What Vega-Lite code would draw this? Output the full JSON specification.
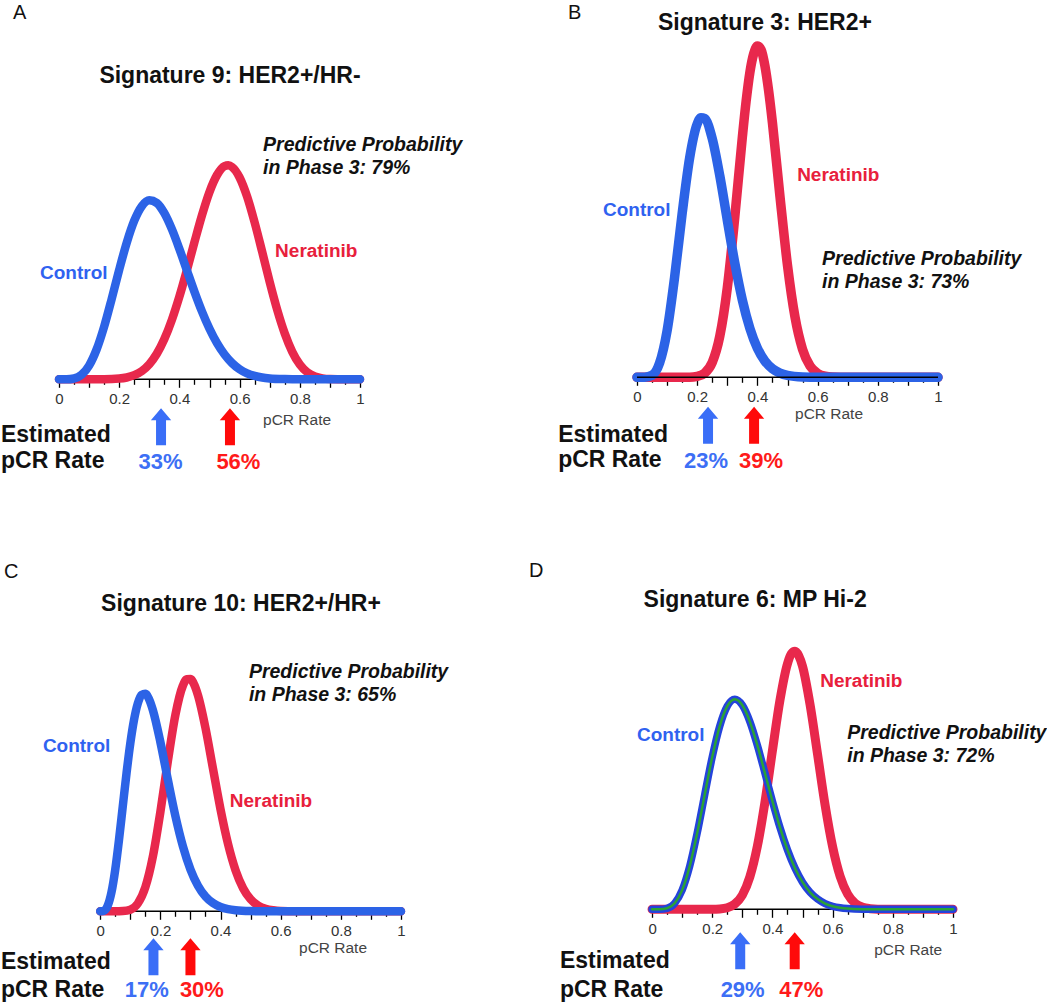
{
"$schema": "https://vega.github.io/schema/vega-lite/v6.json",
"padding": {"left": 0, "top": 2.3, "right": 0, "bottom": 0},
"background": "white",
"config": {"view": {"stroke": null}, "font": "Liberation Sans"},
"datasets": {
"curves": [
{"p":"A","a":"C","x":0,"y":0},{"p":"A","a":"C","x":0.025,"y":0},{"p":"A","a":"C","x":0.05,"y":0.8},{"p":"A","a":"C","x":0.075,"y":4.5},{"p":"A","a":"C","x":0.1,"y":13.7},{"p":"A","a":"C","x":0.125,"y":29.9},{"p":"A","a":"C","x":0.15,"y":52.7},{"p":"A","a":"C","x":0.175,"y":80.3},{"p":"A","a":"C","x":0.2,"y":109.5},{"p":"A","a":"C","x":0.225,"y":136.6},{"p":"A","a":"C","x":0.25,"y":158.6},{"p":"A","a":"C","x":0.275,"y":173.1},{"p":"A","a":"C","x":0.3,"y":179},{"p":"A","a":"C","x":0.325,"y":176.3},{"p":"A","a":"C","x":0.35,"y":166.1},{"p":"A","a":"C","x":0.375,"y":150.1},{"p":"A","a":"C","x":0.4,"y":130.3},{"p":"A","a":"C","x":0.425,"y":108.9},{"p":"A","a":"C","x":0.45,"y":87.6},{"p":"A","a":"C","x":0.475,"y":67.8},{"p":"A","a":"C","x":0.5,"y":50.5},{"p":"A","a":"C","x":0.525,"y":36.1},{"p":"A","a":"C","x":0.55,"y":24.8},{"p":"A","a":"C","x":0.575,"y":16.2},{"p":"A","a":"C","x":0.6,"y":10.1},{"p":"A","a":"C","x":0.625,"y":6},{"p":"A","a":"C","x":0.65,"y":3.4},{"p":"A","a":"C","x":0.675,"y":1.8},{"p":"A","a":"C","x":0.7,"y":0.9},{"p":"A","a":"C","x":0.75,"y":0.2},{"p":"A","a":"C","x":0.8,"y":0},{"p":"A","a":"C","x":1,"y":0},
{"p":"A","a":"N","x":0,"y":0},{"p":"A","a":"N","x":0.15,"y":0.1},{"p":"A","a":"N","x":0.2,"y":0.7},{"p":"A","a":"N","x":0.225,"y":1.8},{"p":"A","a":"N","x":0.25,"y":4.1},{"p":"A","a":"N","x":0.275,"y":8.2},{"p":"A","a":"N","x":0.3,"y":15.1},{"p":"A","a":"N","x":0.325,"y":25.5},{"p":"A","a":"N","x":0.35,"y":40.2},{"p":"A","a":"N","x":0.375,"y":59.4},{"p":"A","a":"N","x":0.4,"y":82.7},{"p":"A","a":"N","x":0.425,"y":109.2},{"p":"A","a":"N","x":0.45,"y":137.1},{"p":"A","a":"N","x":0.475,"y":164.1},{"p":"A","a":"N","x":0.5,"y":187.4},{"p":"A","a":"N","x":0.525,"y":204.3},{"p":"A","a":"N","x":0.55,"y":213.2},{"p":"A","a":"N","x":0.5625,"y":214},{"p":"A","a":"N","x":0.575,"y":212.3},{"p":"A","a":"N","x":0.6,"y":201.8},{"p":"A","a":"N","x":0.625,"y":182.6},{"p":"A","a":"N","x":0.65,"y":156.8},{"p":"A","a":"N","x":0.675,"y":127.5},{"p":"A","a":"N","x":0.7,"y":97.3},{"p":"A","a":"N","x":0.725,"y":69.4},{"p":"A","a":"N","x":0.75,"y":45.8},{"p":"A","a":"N","x":0.775,"y":27.5},{"p":"A","a":"N","x":0.8,"y":14.8},{"p":"A","a":"N","x":0.825,"y":7},{"p":"A","a":"N","x":0.85,"y":2.8},{"p":"A","a":"N","x":0.875,"y":0.9},{"p":"A","a":"N","x":0.9,"y":0.2},{"p":"A","a":"N","x":0.95,"y":0},{"p":"A","a":"N","x":1,"y":0},
{"p":"B","a":"C","x":0,"y":0},{"p":"B","a":"C","x":0.025,"y":0.1},{"p":"B","a":"C","x":0.05,"y":2},{"p":"B","a":"C","x":0.075,"y":14.2},{"p":"B","a":"C","x":0.1,"y":46.6},{"p":"B","a":"C","x":0.125,"y":100.3},{"p":"B","a":"C","x":0.15,"y":163.8},{"p":"B","a":"C","x":0.175,"y":219.6},{"p":"B","a":"C","x":0.2,"y":253.4},{"p":"B","a":"C","x":0.2125,"y":259.6},{"p":"B","a":"C","x":0.225,"y":258.7},{"p":"B","a":"C","x":0.25,"y":238.7},{"p":"B","a":"C","x":0.275,"y":201.6},{"p":"B","a":"C","x":0.3,"y":157.2},{"p":"B","a":"C","x":0.325,"y":114.1},{"p":"B","a":"C","x":0.35,"y":77.2},{"p":"B","a":"C","x":0.375,"y":49},{"p":"B","a":"C","x":0.4,"y":29.1},{"p":"B","a":"C","x":0.425,"y":16.2},{"p":"B","a":"C","x":0.45,"y":8.5},{"p":"B","a":"C","x":0.475,"y":4.2},{"p":"B","a":"C","x":0.5,"y":1.9},{"p":"B","a":"C","x":0.55,"y":0.3},{"p":"B","a":"C","x":0.6,"y":0},{"p":"B","a":"C","x":1,"y":0},
{"p":"B","a":"N","x":0,"y":0},{"p":"B","a":"N","x":0.175,"y":0.1},{"p":"B","a":"N","x":0.2,"y":0.9},{"p":"B","a":"N","x":0.225,"y":4.2},{"p":"B","a":"N","x":0.25,"y":14.9},{"p":"B","a":"N","x":0.275,"y":41},{"p":"B","a":"N","x":0.3,"y":89.5},{"p":"B","a":"N","x":0.325,"y":160.5},{"p":"B","a":"N","x":0.35,"y":240.2},{"p":"B","a":"N","x":0.3625,"y":276},{"p":"B","a":"N","x":0.375,"y":304.9},{"p":"B","a":"N","x":0.3875,"y":323.4},{"p":"B","a":"N","x":0.4,"y":331.3},{"p":"B","a":"N","x":0.4125,"y":327.5},{"p":"B","a":"N","x":0.425,"y":311.4},{"p":"B","a":"N","x":0.4375,"y":286.1},{"p":"B","a":"N","x":0.45,"y":254.4},{"p":"B","a":"N","x":0.475,"y":180.9},{"p":"B","a":"N","x":0.5,"y":111.9},{"p":"B","a":"N","x":0.525,"y":60.1},{"p":"B","a":"N","x":0.55,"y":28},{"p":"B","a":"N","x":0.575,"y":11.2},{"p":"B","a":"N","x":0.6,"y":3.9},{"p":"B","a":"N","x":0.625,"y":1.1},{"p":"B","a":"N","x":0.65,"y":0.3},{"p":"B","a":"N","x":0.7,"y":0},{"p":"B","a":"N","x":1,"y":0},
{"p":"C","a":"C","x":0,"y":0},{"p":"C","a":"C","x":0.0125,"y":0.6},{"p":"C","a":"C","x":0.025,"y":5.6},{"p":"C","a":"C","x":0.0375,"y":19.1},{"p":"C","a":"C","x":0.05,"y":41.7},{"p":"C","a":"C","x":0.0625,"y":71.5},{"p":"C","a":"C","x":0.075,"y":104.9},{"p":"C","a":"C","x":0.0875,"y":138.1},{"p":"C","a":"C","x":0.1,"y":167.8},{"p":"C","a":"C","x":0.1125,"y":191.5},{"p":"C","a":"C","x":0.125,"y":207.9},{"p":"C","a":"C","x":0.1375,"y":216.5},{"p":"C","a":"C","x":0.15,"y":217.6},{"p":"C","a":"C","x":0.1625,"y":212.1},{"p":"C","a":"C","x":0.175,"y":201.3},{"p":"C","a":"C","x":0.2,"y":169.3},{"p":"C","a":"C","x":0.225,"y":131.4},{"p":"C","a":"C","x":0.25,"y":95.2},{"p":"C","a":"C","x":0.275,"y":64.9},{"p":"C","a":"C","x":0.3,"y":41.9},{"p":"C","a":"C","x":0.325,"y":25.6},{"p":"C","a":"C","x":0.35,"y":14.8},{"p":"C","a":"C","x":0.375,"y":8.2},{"p":"C","a":"C","x":0.4,"y":4.3},{"p":"C","a":"C","x":0.425,"y":2.1},{"p":"C","a":"C","x":0.45,"y":1},{"p":"C","a":"C","x":0.5,"y":0.2},{"p":"C","a":"C","x":0.55,"y":0},{"p":"C","a":"C","x":1,"y":0},
{"p":"C","a":"N","x":0,"y":0},{"p":"C","a":"N","x":0.05,"y":0},{"p":"C","a":"N","x":0.075,"y":0.2},{"p":"C","a":"N","x":0.1,"y":1.6},{"p":"C","a":"N","x":0.125,"y":7.8},{"p":"C","a":"N","x":0.15,"y":24},{"p":"C","a":"N","x":0.175,"y":54.6},{"p":"C","a":"N","x":0.2,"y":99.3},{"p":"C","a":"N","x":0.225,"y":150.4},{"p":"C","a":"N","x":0.25,"y":196.5},{"p":"C","a":"N","x":0.275,"y":225.8},{"p":"C","a":"N","x":0.2875,"y":232},{"p":"C","a":"N","x":0.3,"y":232.2},{"p":"C","a":"N","x":0.3125,"y":226.7},{"p":"C","a":"N","x":0.325,"y":216.1},{"p":"C","a":"N","x":0.35,"y":183.3},{"p":"C","a":"N","x":0.375,"y":142.5},{"p":"C","a":"N","x":0.4,"y":102},{"p":"C","a":"N","x":0.425,"y":67.3},{"p":"C","a":"N","x":0.45,"y":41},{"p":"C","a":"N","x":0.475,"y":23.1},{"p":"C","a":"N","x":0.5,"y":12},{"p":"C","a":"N","x":0.525,"y":5.7},{"p":"C","a":"N","x":0.55,"y":2.5},{"p":"C","a":"N","x":0.575,"y":1},{"p":"C","a":"N","x":0.6,"y":0.3},{"p":"C","a":"N","x":0.65,"y":0},{"p":"C","a":"N","x":1,"y":0},
{"p":"D","a":"C","x":0,"y":0},{"p":"D","a":"C","x":0.025,"y":0},{"p":"D","a":"C","x":0.05,"y":1},{"p":"D","a":"C","x":0.075,"y":6},{"p":"D","a":"C","x":0.1,"y":19.2},{"p":"D","a":"C","x":0.125,"y":42.9},{"p":"D","a":"C","x":0.15,"y":76.2},{"p":"D","a":"C","x":0.175,"y":114.6},{"p":"D","a":"C","x":0.2,"y":152.3},{"p":"D","a":"C","x":0.225,"y":183.2},{"p":"D","a":"C","x":0.25,"y":203.1},{"p":"D","a":"C","x":0.275,"y":210},{"p":"D","a":"C","x":0.3,"y":204.1},{"p":"D","a":"C","x":0.325,"y":187.7},{"p":"D","a":"C","x":0.35,"y":163.9},{"p":"D","a":"C","x":0.375,"y":136.3},{"p":"D","a":"C","x":0.4,"y":108.1},{"p":"D","a":"C","x":0.425,"y":81.9},{"p":"D","a":"C","x":0.45,"y":59.4},{"p":"D","a":"C","x":0.475,"y":41.1},{"p":"D","a":"C","x":0.5,"y":27.1},{"p":"D","a":"C","x":0.525,"y":17},{"p":"D","a":"C","x":0.55,"y":10.2},{"p":"D","a":"C","x":0.575,"y":5.7},{"p":"D","a":"C","x":0.6,"y":3},{"p":"D","a":"C","x":0.625,"y":1.5},{"p":"D","a":"C","x":0.65,"y":0.7},{"p":"D","a":"C","x":0.7,"y":0.1},{"p":"D","a":"C","x":0.75,"y":0},{"p":"D","a":"C","x":1,"y":0},
{"p":"D","a":"N","x":0,"y":0},{"p":"D","a":"N","x":0.2,"y":0.1},{"p":"D","a":"N","x":0.225,"y":0.4},{"p":"D","a":"N","x":0.25,"y":1.6},{"p":"D","a":"N","x":0.275,"y":5.3},{"p":"D","a":"N","x":0.3,"y":14.2},{"p":"D","a":"N","x":0.325,"y":32.4},{"p":"D","a":"N","x":0.35,"y":63.1},{"p":"D","a":"N","x":0.375,"y":106.8},{"p":"D","a":"N","x":0.4,"y":158.6},{"p":"D","a":"N","x":0.425,"y":209},{"p":"D","a":"N","x":0.45,"y":245.6},{"p":"D","a":"N","x":0.4625,"y":255.4},{"p":"D","a":"N","x":0.475,"y":258},{"p":"D","a":"N","x":0.4875,"y":253.6},{"p":"D","a":"N","x":0.5,"y":243.1},{"p":"D","a":"N","x":0.525,"y":204.8},{"p":"D","a":"N","x":0.55,"y":154.9},{"p":"D","a":"N","x":0.575,"y":104.3},{"p":"D","a":"N","x":0.6,"y":62.5},{"p":"D","a":"N","x":0.625,"y":32.9},{"p":"D","a":"N","x":0.65,"y":15.2},{"p":"D","a":"N","x":0.675,"y":6},{"p":"D","a":"N","x":0.7,"y":2},{"p":"D","a":"N","x":0.725,"y":0.6},{"p":"D","a":"N","x":0.75,"y":0.1},{"p":"D","a":"N","x":0.8,"y":0},{"p":"D","a":"N","x":1,"y":0}
],
"notes": [
{"p":"A","k":"letter","t":"A","x":-0.153,"y":360.7},
{"p":"A","k":"title","t":"Signature 9: HER2+/HR-","x":0.568,"y":296},
{"p":"A","k":"pp","t":"Predictive Probability","x":0.678,"y":228.3},
{"p":"A","k":"pp","t":"in Phase 3: 79%","x":0.678,"y":205},
{"p":"A","k":"ctl","t":"Control","x":-0.063,"y":100},
{"p":"A","k":"ner","t":"Neratinib","x":0.718,"y":122},
{"p":"A","k":"axt","t":"pCR Rate","x":0.678,"y":-46},
{"p":"A","k":"est","t":"Estimated","x":-0.1927,"y":-63},
{"p":"A","k":"est","t":"pCR Rate","x":-0.1927,"y":-89},
{"p":"A","k":"pctc","t":"33%","x":0.337,"y":-90},
{"p":"A","k":"pctn","t":"56%","x":0.596,"y":-90},
{"p":"A","k":"arrc","t":"","x":0.339,"y":-47.5},
{"p":"A","k":"arrn","t":"","x":0.568,"y":-47.5},
{"p":"B","k":"letter","t":"B","x":-0.229,"y":358.7},
{"p":"B","k":"title","t":"Signature 3: HER2+","x":0.425,"y":347.7},
{"p":"B","k":"pp","t":"Predictive Probability","x":0.615,"y":112},
{"p":"B","k":"pp","t":"in Phase 3: 73%","x":0.615,"y":89},
{"p":"B","k":"ctl","t":"Control","x":-0.113,"y":161},
{"p":"B","k":"ner","t":"Neratinib","x":0.532,"y":196},
{"p":"B","k":"axt","t":"pCR Rate","x":0.525,"y":-42},
{"p":"B","k":"est","t":"Estimated","x":-0.262,"y":-65},
{"p":"B","k":"est","t":"pCR Rate","x":-0.262,"y":-90},
{"p":"B","k":"pctc","t":"23%","x":0.229,"y":-91},
{"p":"B","k":"pctn","t":"39%","x":0.412,"y":-91},
{"p":"B","k":"arrc","t":"","x":0.236,"y":-48},
{"p":"B","k":"arrn","t":"","x":0.389,"y":-48},
{"p":"C","k":"letter","t":"C","x":-0.32,"y":333},
{"p":"C","k":"title","t":"Signature 10: HER2+/HR+","x":0.468,"y":300},
{"p":"C","k":"pp","t":"Predictive Probability","x":0.4945,"y":233.7},
{"p":"C","k":"pp","t":"in Phase 3: 65%","x":0.4945,"y":210},
{"p":"C","k":"ctl","t":"Control","x":-0.1906,"y":159},
{"p":"C","k":"ner","t":"Neratinib","x":0.431,"y":104},
{"p":"C","k":"axt","t":"pCR Rate","x":0.661,"y":-42},
{"p":"C","k":"est","t":"Estimated","x":-0.33,"y":-58},
{"p":"C","k":"est","t":"pCR Rate","x":-0.33,"y":-86},
{"p":"C","k":"pctc","t":"17%","x":0.155,"y":-86},
{"p":"C","k":"pctn","t":"30%","x":0.338,"y":-86},
{"p":"C","k":"arrc","t":"","x":0.177,"y":-45.5},
{"p":"C","k":"arrn","t":"","x":0.3,"y":-45.5},
{"p":"D","k":"letter","t":"D","x":-0.409,"y":332},
{"p":"D","k":"title","t":"Signature 6: MP Hi-2","x":0.3425,"y":302},
{"p":"D","k":"pp","t":"Predictive Probability","x":0.6485,"y":170},
{"p":"D","k":"pp","t":"in Phase 3: 72%","x":0.6485,"y":147},
{"p":"D","k":"ctl","t":"Control","x":-0.05,"y":168},
{"p":"D","k":"ner","t":"Neratinib","x":0.5587,"y":222},
{"p":"D","k":"axt","t":"pCR Rate","x":0.738,"y":-46},
{"p":"D","k":"est","t":"Estimated","x":-0.306,"y":-59},
{"p":"D","k":"est","t":"pCR Rate","x":-0.306,"y":-88},
{"p":"D","k":"pctc","t":"29%","x":0.301,"y":-88},
{"p":"D","k":"pctn","t":"47%","x":0.496,"y":-88},
{"p":"D","k":"arrc","t":"","x":0.293,"y":-41.5},
{"p":"D","k":"arrn","t":"","x":0.474,"y":-41.5}
]
},
"columns": 2,
"bounds": "flush",
"align": "each",
"spacing": {"row": 181, "column": 236},
"concat": [
{
"width": 301, "height": 349,
"encoding": {
"x": {"field": "x", "type": "quantitative", "scale": {"domain": [0, 1], "nice": false, "zero": false},
 "axis": {"domain": false, "grid": false, "title": null, "values": [0,0.05,0.1,0.15,0.2,0.25,0.3,0.35,0.4,0.45,0.5,0.55,0.6,0.65,0.7,0.75,0.8,0.85,0.9,0.95,1], "labelExpr": "round(datum.value*100) % 20 === 0 ? format(datum.value, '~g') : ''", "tickSize": {"condition": {"test": "round(datum.value*100) % 10 === 0", "value": 8}, "value": 5}, "tickColor": "#000", "tickWidth": 1.3, "labelFont": "Liberation Sans", "labelFontSize": 15, "labelColor": "#333", "labelPadding": 4, "labelFlush": false, "labelOverlap": false}},
"y": {"field": "y", "type": "quantitative", "scale": {"domain": [0, 349], "nice": false}, "axis": null}
},
"layer": [
{"data": {"values": [{"x": 0, "x2": 1, "y": 0}]}, "mark": {"type": "rule", "color": "#000", "strokeWidth": 1.5}, "encoding": {"x2": {"field": "x2"}}},
{"data": {"name": "curves"}, "transform": [{"filter": "datum.p === 'A' && datum.a === 'N'"}], "mark": {"type": "line", "color": "#E8284C", "strokeWidth": 8.5, "strokeCap": "round", "strokeJoin": "round", "interpolate": "monotone"}},
{"data": {"name": "curves"}, "transform": [{"filter": "datum.p === 'A' && datum.a === 'C'"}], "mark": {"type": "line", "color": "#2C63E6", "strokeWidth": 8.5, "strokeCap": "round", "strokeJoin": "round", "interpolate": "monotone"}},
{"data": {"name": "notes"}, "transform": [{"filter": "datum.p === 'A' && datum.k === 'letter'"}], "mark": {"type": "text", "align": "left", "baseline": "alphabetic", "fontSize": 20, "color": "#111"}, "encoding": {"text": {"field": "t"}}},
{"data": {"name": "notes"}, "transform": [{"filter": "datum.p === 'A' && datum.k === 'title'"}], "mark": {"type": "text", "align": "center", "baseline": "alphabetic", "fontSize": 23, "fontWeight": "bold", "color": "#111"}, "encoding": {"text": {"field": "t"}}},
{"data": {"name": "notes"}, "transform": [{"filter": "datum.p === 'A' && datum.k === 'pp'"}], "mark": {"type": "text", "align": "left", "baseline": "alphabetic", "fontSize": 19.5, "fontWeight": "bold", "fontStyle": "italic", "color": "#111"}, "encoding": {"text": {"field": "t"}}},
{"data": {"name": "notes"}, "transform": [{"filter": "datum.p === 'A' && datum.k === 'ctl'"}], "mark": {"type": "text", "align": "left", "baseline": "alphabetic", "fontSize": 19, "fontWeight": "bold", "color": "#2F62F0"}, "encoding": {"text": {"field": "t"}}},
{"data": {"name": "notes"}, "transform": [{"filter": "datum.p === 'A' && datum.k === 'ner'"}], "mark": {"type": "text", "align": "left", "baseline": "alphabetic", "fontSize": 19, "fontWeight": "bold", "color": "#E8203C"}, "encoding": {"text": {"field": "t"}}},
{"data": {"name": "notes"}, "transform": [{"filter": "datum.p === 'A' && datum.k === 'axt'"}], "mark": {"type": "text", "align": "left", "baseline": "alphabetic", "fontSize": 15.5, "color": "#444"}, "encoding": {"text": {"field": "t"}}},
{"data": {"name": "notes"}, "transform": [{"filter": "datum.p === 'A' && datum.k === 'est'"}], "mark": {"type": "text", "align": "left", "baseline": "alphabetic", "fontSize": 23, "fontWeight": "bold", "color": "#111"}, "encoding": {"text": {"field": "t"}}},
{"data": {"name": "notes"}, "transform": [{"filter": "datum.p === 'A' && datum.k === 'pctc'"}], "mark": {"type": "text", "align": "center", "baseline": "alphabetic", "fontSize": 22, "fontWeight": "bold", "color": "#3D6FF5"}, "encoding": {"text": {"field": "t"}}},
{"data": {"name": "notes"}, "transform": [{"filter": "datum.p === 'A' && datum.k === 'pctn'"}], "mark": {"type": "text", "align": "center", "baseline": "alphabetic", "fontSize": 22, "fontWeight": "bold", "color": "#FF1A1A"}, "encoding": {"text": {"field": "t"}}},
{"data": {"name": "notes"}, "transform": [{"filter": "datum.p === 'A' && datum.k === 'arrc'"}], "mark": {"type": "point", "shape": "M-0.27,1L-0.27,-0.35L-0.55,-0.35L0,-1L0.55,-0.35L0.27,-0.35L0.27,1Z", "size": 1369, "filled": true, "opacity": 1, "color": "#3A6EF7"}},
{"data": {"name": "notes"}, "transform": [{"filter": "datum.p === 'A' && datum.k === 'arrn'"}], "mark": {"type": "point", "shape": "M-0.27,1L-0.27,-0.35L-0.55,-0.35L0,-1L0.55,-0.35L0.27,-0.35L0.27,1Z", "size": 1369, "filled": true, "opacity": 1, "color": "#FF0A0A"}}
]
},
{
"width": 301, "height": 347,
"encoding": {
"x": {"field": "x", "type": "quantitative", "scale": {"domain": [0, 1], "nice": false, "zero": false},
 "axis": {"domain": false, "grid": false, "title": null, "values": [0,0.05,0.1,0.15,0.2,0.25,0.3,0.35,0.4,0.45,0.5,0.55,0.6,0.65,0.7,0.75,0.8,0.85,0.9,0.95,1], "labelExpr": "round(datum.value*100) % 20 === 0 ? format(datum.value, '~g') : ''", "tickSize": {"condition": {"test": "round(datum.value*100) % 10 === 0", "value": 8}, "value": 5}, "tickColor": "#000", "tickWidth": 1.3, "labelFont": "Liberation Sans", "labelFontSize": 15, "labelColor": "#333", "labelPadding": 4, "labelFlush": false, "labelOverlap": false}},
"y": {"field": "y", "type": "quantitative", "scale": {"domain": [0, 347], "nice": false}, "axis": null}
},
"layer": [
{"data": {"name": "curves"}, "transform": [{"filter": "datum.p === 'B' && datum.a === 'N'"}], "mark": {"type": "line", "color": "#E8284C", "strokeWidth": 9.5, "strokeCap": "round", "strokeJoin": "round", "interpolate": "monotone"}},
{"data": {"name": "curves"}, "transform": [{"filter": "datum.p === 'B' && datum.a === 'C'"}], "mark": {"type": "line", "color": "#2C63E6", "strokeWidth": 9.5, "strokeCap": "round", "strokeJoin": "round", "interpolate": "monotone"}},
{"data": {"values": [{"x": 0, "x2": 1, "y": 0}]}, "mark": {"type": "rule", "color": "#000", "strokeWidth": 1.5}, "encoding": {"x2": {"field": "x2"}}},
{"data": {"name": "notes"}, "transform": [{"filter": "datum.p === 'B' && datum.k === 'letter'"}], "mark": {"type": "text", "align": "left", "baseline": "alphabetic", "fontSize": 20, "color": "#111"}, "encoding": {"text": {"field": "t"}}},
{"data": {"name": "notes"}, "transform": [{"filter": "datum.p === 'B' && datum.k === 'title'"}], "mark": {"type": "text", "align": "center", "baseline": "alphabetic", "fontSize": 23, "fontWeight": "bold", "color": "#111"}, "encoding": {"text": {"field": "t"}}},
{"data": {"name": "notes"}, "transform": [{"filter": "datum.p === 'B' && datum.k === 'pp'"}], "mark": {"type": "text", "align": "left", "baseline": "alphabetic", "fontSize": 19.5, "fontWeight": "bold", "fontStyle": "italic", "color": "#111"}, "encoding": {"text": {"field": "t"}}},
{"data": {"name": "notes"}, "transform": [{"filter": "datum.p === 'B' && datum.k === 'ctl'"}], "mark": {"type": "text", "align": "left", "baseline": "alphabetic", "fontSize": 19, "fontWeight": "bold", "color": "#2F62F0"}, "encoding": {"text": {"field": "t"}}},
{"data": {"name": "notes"}, "transform": [{"filter": "datum.p === 'B' && datum.k === 'ner'"}], "mark": {"type": "text", "align": "left", "baseline": "alphabetic", "fontSize": 19, "fontWeight": "bold", "color": "#E8203C"}, "encoding": {"text": {"field": "t"}}},
{"data": {"name": "notes"}, "transform": [{"filter": "datum.p === 'B' && datum.k === 'axt'"}], "mark": {"type": "text", "align": "left", "baseline": "alphabetic", "fontSize": 15.5, "color": "#444"}, "encoding": {"text": {"field": "t"}}},
{"data": {"name": "notes"}, "transform": [{"filter": "datum.p === 'B' && datum.k === 'est'"}], "mark": {"type": "text", "align": "left", "baseline": "alphabetic", "fontSize": 23, "fontWeight": "bold", "color": "#111"}, "encoding": {"text": {"field": "t"}}},
{"data": {"name": "notes"}, "transform": [{"filter": "datum.p === 'B' && datum.k === 'pctc'"}], "mark": {"type": "text", "align": "center", "baseline": "alphabetic", "fontSize": 22, "fontWeight": "bold", "color": "#3D6FF5"}, "encoding": {"text": {"field": "t"}}},
{"data": {"name": "notes"}, "transform": [{"filter": "datum.p === 'B' && datum.k === 'pctn'"}], "mark": {"type": "text", "align": "center", "baseline": "alphabetic", "fontSize": 22, "fontWeight": "bold", "color": "#FF1A1A"}, "encoding": {"text": {"field": "t"}}},
{"data": {"name": "notes"}, "transform": [{"filter": "datum.p === 'B' && datum.k === 'arrc'"}], "mark": {"type": "point", "shape": "M-0.27,1L-0.27,-0.35L-0.55,-0.35L0,-1L0.55,-0.35L0.27,-0.35L0.27,1Z", "size": 1369, "filled": true, "opacity": 1, "color": "#3A6EF7"}},
{"data": {"name": "notes"}, "transform": [{"filter": "datum.p === 'B' && datum.k === 'arrn'"}], "mark": {"type": "point", "shape": "M-0.27,1L-0.27,-0.35L-0.55,-0.35L0,-1L0.55,-0.35L0.27,-0.35L0.27,1Z", "size": 1369, "filled": true, "opacity": 1, "color": "#FF0A0A"}}
]
},
{
"width": 342, "height": 351,
"encoding": {
"x": {"field": "x", "type": "quantitative", "scale": {"domain": [-0.137, 1], "nice": false, "zero": false},
 "axis": {"domain": false, "grid": false, "title": null, "values": [0,0.05,0.1,0.15,0.2,0.25,0.3,0.35,0.4,0.45,0.5,0.55,0.6,0.65,0.7,0.75,0.8,0.85,0.9,0.95,1], "labelExpr": "round(datum.value*100) % 20 === 0 ? format(datum.value, '~g') : ''", "tickSize": {"condition": {"test": "round(datum.value*100) % 10 === 0", "value": 8}, "value": 5}, "tickColor": "#000", "tickWidth": 1.3, "labelFont": "Liberation Sans", "labelFontSize": 15, "labelColor": "#333", "labelPadding": 4, "labelFlush": false, "labelOverlap": false}},
"y": {"field": "y", "type": "quantitative", "scale": {"domain": [0, 351], "nice": false}, "axis": null}
},
"layer": [
{"data": {"values": [{"x": 0, "x2": 1, "y": 0}]}, "mark": {"type": "rule", "color": "#000", "strokeWidth": 1.5}, "encoding": {"x2": {"field": "x2"}}},
{"data": {"name": "curves"}, "transform": [{"filter": "datum.p === 'C' && datum.a === 'N'"}], "mark": {"type": "line", "color": "#E8284C", "strokeWidth": 8.5, "strokeCap": "round", "strokeJoin": "round", "interpolate": "monotone"}},
{"data": {"name": "curves"}, "transform": [{"filter": "datum.p === 'C' && datum.a === 'C'"}], "mark": {"type": "line", "color": "#2C63E6", "strokeWidth": 8.5, "strokeCap": "round", "strokeJoin": "round", "interpolate": "monotone"}},
{"data": {"name": "notes"}, "transform": [{"filter": "datum.p === 'C' && datum.k === 'letter'"}], "mark": {"type": "text", "align": "left", "baseline": "alphabetic", "fontSize": 20, "color": "#111"}, "encoding": {"text": {"field": "t"}}},
{"data": {"name": "notes"}, "transform": [{"filter": "datum.p === 'C' && datum.k === 'title'"}], "mark": {"type": "text", "align": "center", "baseline": "alphabetic", "fontSize": 23, "fontWeight": "bold", "color": "#111"}, "encoding": {"text": {"field": "t"}}},
{"data": {"name": "notes"}, "transform": [{"filter": "datum.p === 'C' && datum.k === 'pp'"}], "mark": {"type": "text", "align": "left", "baseline": "alphabetic", "fontSize": 19.5, "fontWeight": "bold", "fontStyle": "italic", "color": "#111"}, "encoding": {"text": {"field": "t"}}},
{"data": {"name": "notes"}, "transform": [{"filter": "datum.p === 'C' && datum.k === 'ctl'"}], "mark": {"type": "text", "align": "left", "baseline": "alphabetic", "fontSize": 19, "fontWeight": "bold", "color": "#2F62F0"}, "encoding": {"text": {"field": "t"}}},
{"data": {"name": "notes"}, "transform": [{"filter": "datum.p === 'C' && datum.k === 'ner'"}], "mark": {"type": "text", "align": "left", "baseline": "alphabetic", "fontSize": 19, "fontWeight": "bold", "color": "#E8203C"}, "encoding": {"text": {"field": "t"}}},
{"data": {"name": "notes"}, "transform": [{"filter": "datum.p === 'C' && datum.k === 'axt'"}], "mark": {"type": "text", "align": "left", "baseline": "alphabetic", "fontSize": 15.5, "color": "#444"}, "encoding": {"text": {"field": "t"}}},
{"data": {"name": "notes"}, "transform": [{"filter": "datum.p === 'C' && datum.k === 'est'"}], "mark": {"type": "text", "align": "left", "baseline": "alphabetic", "fontSize": 23, "fontWeight": "bold", "color": "#111"}, "encoding": {"text": {"field": "t"}}},
{"data": {"name": "notes"}, "transform": [{"filter": "datum.p === 'C' && datum.k === 'pctc'"}], "mark": {"type": "text", "align": "center", "baseline": "alphabetic", "fontSize": 22, "fontWeight": "bold", "color": "#3D6FF5"}, "encoding": {"text": {"field": "t"}}},
{"data": {"name": "notes"}, "transform": [{"filter": "datum.p === 'C' && datum.k === 'pctn'"}], "mark": {"type": "text", "align": "center", "baseline": "alphabetic", "fontSize": 22, "fontWeight": "bold", "color": "#FF1A1A"}, "encoding": {"text": {"field": "t"}}},
{"data": {"name": "notes"}, "transform": [{"filter": "datum.p === 'C' && datum.k === 'arrc'"}], "mark": {"type": "point", "shape": "M-0.27,1L-0.27,-0.35L-0.55,-0.35L0,-1L0.55,-0.35L0.27,-0.35L0.27,1Z", "size": 1369, "filled": true, "opacity": 1, "color": "#3A6EF7"}},
{"data": {"name": "notes"}, "transform": [{"filter": "datum.p === 'C' && datum.k === 'arrn'"}], "mark": {"type": "point", "shape": "M-0.27,1L-0.27,-0.35L-0.55,-0.35L0,-1L0.55,-0.35L0.27,-0.35L0.27,1Z", "size": 1369, "filled": true, "opacity": 1, "color": "#FF0A0A"}}
]
},
{
"width": 316, "height": 349,
"encoding": {
"x": {"field": "x", "type": "quantitative", "scale": {"domain": [-0.05, 1], "nice": false, "zero": false},
 "axis": {"domain": false, "grid": false, "title": null, "values": [0,0.05,0.1,0.15,0.2,0.25,0.3,0.35,0.4,0.45,0.5,0.55,0.6,0.65,0.7,0.75,0.8,0.85,0.9,0.95,1], "labelExpr": "round(datum.value*100) % 20 === 0 ? format(datum.value, '~g') : ''", "tickSize": {"condition": {"test": "round(datum.value*100) % 10 === 0", "value": 8}, "value": 5}, "tickColor": "#000", "tickWidth": 1.3, "labelFont": "Liberation Sans", "labelFontSize": 15, "labelColor": "#333", "labelPadding": 4, "labelFlush": false, "labelOverlap": false}},
"y": {"field": "y", "type": "quantitative", "scale": {"domain": [0, 349], "nice": false}, "axis": null}
},
"layer": [
{"data": {"values": [{"x": 0, "x2": 1, "y": 0}]}, "mark": {"type": "rule", "color": "#000", "strokeWidth": 1.5}, "encoding": {"x2": {"field": "x2"}}},
{"data": {"name": "curves"}, "transform": [{"filter": "datum.p === 'D' && datum.a === 'N'"}], "mark": {"type": "line", "color": "#E8284C", "strokeWidth": 9, "strokeCap": "round", "strokeJoin": "round", "interpolate": "monotone"}},
{"data": {"name": "curves"}, "transform": [{"filter": "datum.p === 'D' && datum.a === 'C'"}], "mark": {"type": "line", "color": "#2443DC", "strokeWidth": 7.5, "strokeCap": "round", "strokeJoin": "round", "interpolate": "monotone"}},
{"data": {"name": "curves"}, "transform": [{"filter": "datum.p === 'D' && datum.a === 'C'"}], "mark": {"type": "line", "color": "#2AA336", "strokeWidth": 2.5, "strokeCap": "round", "strokeJoin": "round", "interpolate": "monotone"}},
{"data": {"name": "notes"}, "transform": [{"filter": "datum.p === 'D' && datum.k === 'letter'"}], "mark": {"type": "text", "align": "left", "baseline": "alphabetic", "fontSize": 20, "color": "#111"}, "encoding": {"text": {"field": "t"}}},
{"data": {"name": "notes"}, "transform": [{"filter": "datum.p === 'D' && datum.k === 'title'"}], "mark": {"type": "text", "align": "center", "baseline": "alphabetic", "fontSize": 23, "fontWeight": "bold", "color": "#111"}, "encoding": {"text": {"field": "t"}}},
{"data": {"name": "notes"}, "transform": [{"filter": "datum.p === 'D' && datum.k === 'pp'"}], "mark": {"type": "text", "align": "left", "baseline": "alphabetic", "fontSize": 19.5, "fontWeight": "bold", "fontStyle": "italic", "color": "#111"}, "encoding": {"text": {"field": "t"}}},
{"data": {"name": "notes"}, "transform": [{"filter": "datum.p === 'D' && datum.k === 'ctl'"}], "mark": {"type": "text", "align": "left", "baseline": "alphabetic", "fontSize": 19, "fontWeight": "bold", "color": "#2F62F0"}, "encoding": {"text": {"field": "t"}}},
{"data": {"name": "notes"}, "transform": [{"filter": "datum.p === 'D' && datum.k === 'ner'"}], "mark": {"type": "text", "align": "left", "baseline": "alphabetic", "fontSize": 19, "fontWeight": "bold", "color": "#E8203C"}, "encoding": {"text": {"field": "t"}}},
{"data": {"name": "notes"}, "transform": [{"filter": "datum.p === 'D' && datum.k === 'axt'"}], "mark": {"type": "text", "align": "left", "baseline": "alphabetic", "fontSize": 15.5, "color": "#444"}, "encoding": {"text": {"field": "t"}}},
{"data": {"name": "notes"}, "transform": [{"filter": "datum.p === 'D' && datum.k === 'est'"}], "mark": {"type": "text", "align": "left", "baseline": "alphabetic", "fontSize": 23, "fontWeight": "bold", "color": "#111"}, "encoding": {"text": {"field": "t"}}},
{"data": {"name": "notes"}, "transform": [{"filter": "datum.p === 'D' && datum.k === 'pctc'"}], "mark": {"type": "text", "align": "center", "baseline": "alphabetic", "fontSize": 22, "fontWeight": "bold", "color": "#3D6FF5"}, "encoding": {"text": {"field": "t"}}},
{"data": {"name": "notes"}, "transform": [{"filter": "datum.p === 'D' && datum.k === 'pctn'"}], "mark": {"type": "text", "align": "center", "baseline": "alphabetic", "fontSize": 22, "fontWeight": "bold", "color": "#FF1A1A"}, "encoding": {"text": {"field": "t"}}},
{"data": {"name": "notes"}, "transform": [{"filter": "datum.p === 'D' && datum.k === 'arrc'"}], "mark": {"type": "point", "shape": "M-0.27,1L-0.27,-0.35L-0.55,-0.35L0,-1L0.55,-0.35L0.27,-0.35L0.27,1Z", "size": 1369, "filled": true, "opacity": 1, "color": "#3A6EF7"}},
{"data": {"name": "notes"}, "transform": [{"filter": "datum.p === 'D' && datum.k === 'arrn'"}], "mark": {"type": "point", "shape": "M-0.27,1L-0.27,-0.35L-0.55,-0.35L0,-1L0.55,-0.35L0.27,-0.35L0.27,1Z", "size": 1369, "filled": true, "opacity": 1, "color": "#FF0A0A"}}
]
}
]
}
